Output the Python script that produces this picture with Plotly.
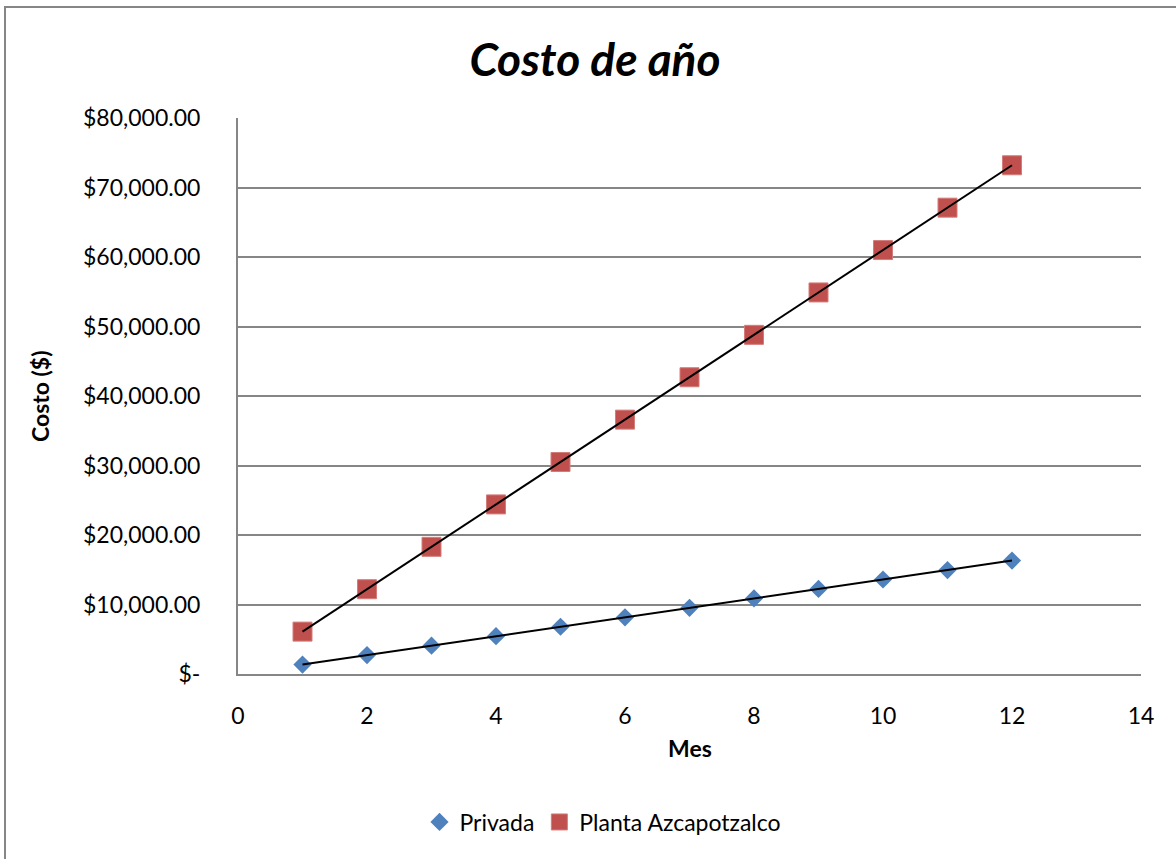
import numpy as np
import plotly.graph_objects as go

meses = [1, 2, 3, 4, 5, 6, 7, 8, 9, 10, 11, 12]
privada = [1360, 2720, 4080, 5440, 6800, 8160, 9520, 10880, 12240, 13600, 14960, 16320]
planta = [6100, 12200, 18300, 24400, 30500, 36600, 42700, 48800, 54900, 61000, 67100, 73200]

y_ticks = [0, 10000, 20000, 30000, 40000, 50000, 60000, 70000, 80000]
y_ticktext = ["$-", "$10,000.00", "$20,000.00", "$30,000.00", "$40,000.00",
              "$50,000.00", "$60,000.00", "$70,000.00", "$80,000.00"]
x_ticks = [0, 2, 4, 6, 8, 10, 12, 14]

FONT = "Lato, Carlito, Calibri, sans-serif"
FS = 23

fig = go.Figure()

fig.add_trace(go.Scatter(
    x=meses, y=privada, mode="markers", name="Privada",
    marker=dict(symbol="diamond", size=14, color="#4F81BD",
                line=dict(width=0)),
))
fig.add_trace(go.Scatter(
    x=meses, y=planta, mode="markers", name="Planta Azcapotzalco",
    marker=dict(symbol="square", size=19, color="#C0504D",
                line=dict(width=1, color="#D37C7A")),
))

# linear trendlines
for ys in (privada, planta):
    m, b = np.polyfit(meses, ys, 1)
    xs = [meses[0], meses[-1]]
    fig.add_trace(go.Scatter(
        x=xs, y=[m * xv + b for xv in xs], mode="lines",
        line=dict(color="black", width=2), showlegend=False, hoverinfo="skip",
    ))

L, R, T, B = 238, 1141, 118, 674
W, H = 1176, 859
pw, ph = R - L, B - T

fig.update_layout(
    width=W, height=H,
    margin=dict(l=L, r=W - R, t=T, b=H - B),
    paper_bgcolor="white", plot_bgcolor="white",
    font=dict(family=FONT, size=FS, color="black"),
    title=dict(text="<b><i>Costo de año</i></b>", x=595 / W, xref="container",
               xanchor="center", y=1 - 60 / H, yref="container", yanchor="middle",
               font=dict(size=46, family=FONT, color="black")),
    xaxis=dict(range=[0, 14], tickvals=x_ticks, showgrid=False, zeroline=False,
               showline=True, linecolor="#868686", linewidth=2,
               ticks="", ticklabelstandoff=20, tickfont=dict(size=FS)),
    yaxis=dict(range=[0, 80000], tickvals=y_ticks, ticktext=y_ticktext,
               showgrid=True, gridcolor="#868686", gridwidth=1.5, zeroline=False,
               showline=True, linecolor="#868686", linewidth=2,
               ticks="", ticklabelstandoff=31, tickfont=dict(size=FS)),
    legend=dict(orientation="h", x=603 / W, xanchor="center",
                y=1 - 822 / H, yanchor="middle", xref="container", yref="container",
                font=dict(size=FS), itemwidth=30, tracegroupgap=0),
    showlegend=True,
)

fig.add_annotation(text="<b>Mes</b>", xref="paper", yref="paper",
                   x=(690 - L) / pw, y=(B - 748) / ph, showarrow=False,
                   xanchor="center", yanchor="middle", font=dict(size=FS))
fig.add_annotation(text="<b>Costo ($)</b>", xref="paper", yref="paper",
                   x=(40 - L) / pw, y=(B - 396) / ph, showarrow=False, textangle=-90,
                   xanchor="center", yanchor="middle", font=dict(size=FS))

# chart-area border
fig.add_shape(type="rect", xref="paper", yref="paper",
              x0=(5 - L) / pw, x1=(1200 - L) / pw,
              y0=(B - 900) / ph, y1=(B - 7) / ph,
              line=dict(color="#868686", width=2), fillcolor="rgba(0,0,0,0)",
              layer="below")

fig.write_html("out.html")
